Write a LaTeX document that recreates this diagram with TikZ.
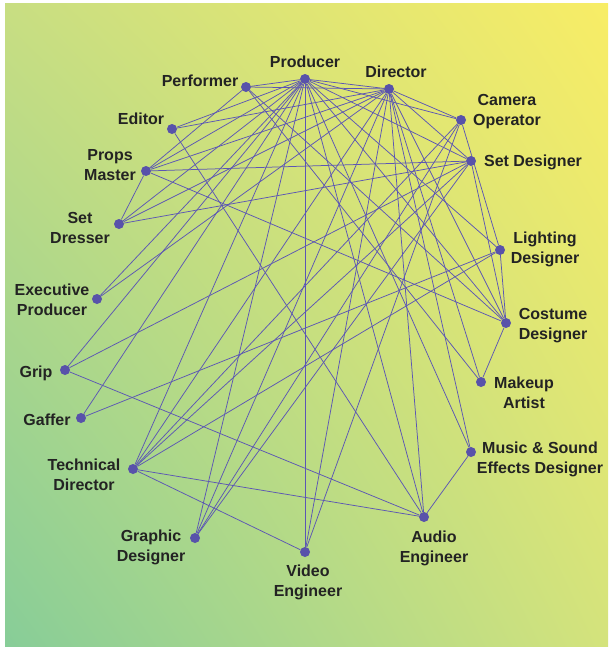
\documentclass[tikz,border=0pt]{standalone}
\usepackage{fontspec}
\setmainfont{Liberation Sans}
\usetikzlibrary{shadings}
\definecolor{dotc}{RGB}{88,82,170}
\definecolor{edgec}{RGB}{92,86,180}
\definecolor{txt}{RGB}{35,35,35}
\definecolor{bgul}{RGB}{200,222,130}
\definecolor{bgur}{RGB}{248,237,102}
\definecolor{bgll}{RGB}{135,205,152}
\definecolor{bglr}{RGB}{212,227,124}
\pgfdeclarelayer{bglayer}
\pgfdeclarelayer{edgelayer}
\pgfsetlayers{bglayer,edgelayer,main}
\begin{document}
\begin{tikzpicture}[x=1pt,y=-1pt,
  dot/.style={circle,fill=dotc,inner sep=0pt,minimum size=10pt},
  lbl/.style={font=\bfseries\fontsize{16}{20}\selectfont,text=txt,align=center,inner sep=0pt},
  edge/.style={draw=edgec,line width=0.75pt}]
\useasboundingbox (0,0) rectangle (608,648);
\begin{pgfonlayer}{bglayer}
\shade[upper left=bgul, upper right=bgur, lower left=bgll, lower right=bglr] (5,3) rectangle (608,646);
\end{pgfonlayer}
% nodes
\node[dot] (P)   at (305,79)  {};
\node[dot] (D)   at (389,89)  {};
\node[dot] (Pf)  at (246,87)  {};
\node[dot] (E)   at (172,129) {};
\node[dot] (C)   at (461,120) {};
\node[dot] (PM)  at (146,171) {};
\node[dot] (SD)  at (471,161) {};
\node[dot] (SDr) at (119,224) {};
\node[dot] (L)   at (500,250) {};
\node[dot] (EP)  at (97,299)  {};
\node[dot] (CD)  at (506,323) {};
\node[dot] (G)   at (65,370)  {};
\node[dot] (M)   at (481,382) {};
\node[dot] (Gf)  at (81,418)  {};
\node[dot] (MS)  at (471,452) {};
\node[dot] (TD)  at (133,469) {};
\node[dot] (A)   at (424,517) {};
\node[dot] (GD)  at (195,538) {};
\node[dot] (V)   at (305,552) {};
% labels
\node[lbl] (lP)   at (305,61.5) {Producer};
\node[lbl] (lD)   at (396,71.5) {Director};
\node[lbl] (lPf)  at (200,81)   {Performer};
\node[lbl] (lE)   at (141,119)  {Editor};
\node[lbl] (lC)   at (507,111.5){Camera\\Operator};
\node[lbl] (lPM)  at (110,165.5){Props\\Master};
\node[lbl] (lSD)  at (533,162)  {Set Designer};
\node[lbl] (lSDr) at (80,227.5) {Set\\Dresser};
\node[lbl] (lL)   at (545,249)  {Lighting\\Designer};
\node[lbl] (lEP)  at (52,299.5) {Executive\\Producer};
\node[lbl] (lCD)  at (553,325.5){Costume\\Designer};
\node[lbl] (lG)   at (36,373)   {Grip};
\node[lbl] (lM)   at (524,392.5){Makeup\\Artist};
\node[lbl] (lGf)  at (47,420)   {Gaffer};
\node[lbl] (lMS)  at (540,459.5){Music \& Sound\\Effects Designer};
\node[lbl] (lTD)  at (84,474.5) {Technical\\Director};
\node[lbl] (lA)   at (434,548)  {Audio\\Engineer};
\node[lbl] (lGD)  at (151,547)  {Graphic\\Designer};
\node[lbl] (lV)   at (308,582.5){Video\\Engineer};
% edges
\begin{pgfonlayer}{edgelayer}
\foreach \a/\b in {P/Pf,P/D,P/E,P/PM,P/SDr,P/EP,P/Gf,P/G,P/TD,P/GD,P/V,P/A,P/MS,P/L,P/SD,P/C,P/CD,
  D/Pf,D/E,D/PM,D/SDr,D/EP,D/C,D/SD,D/CD,D/M,D/MS,D/A,D/V,D/GD,D/TD,
  Pf/PM,Pf/CD,Pf/M,
  E/A,
  C/L,C/TD,C/GD,C/V,
  SD/PM,SD/SDr,SD/G,SD/TD,SD/GD,SD/CD,
  PM/SDr,PM/CD,
  L/Gf,L/TD,L/CD,
  CD/M,
  MS/A,
  A/G,A/TD,
  V/TD}
  \draw[edge] (\a) -- (\b);
\end{pgfonlayer}
\end{tikzpicture}
\end{document}
